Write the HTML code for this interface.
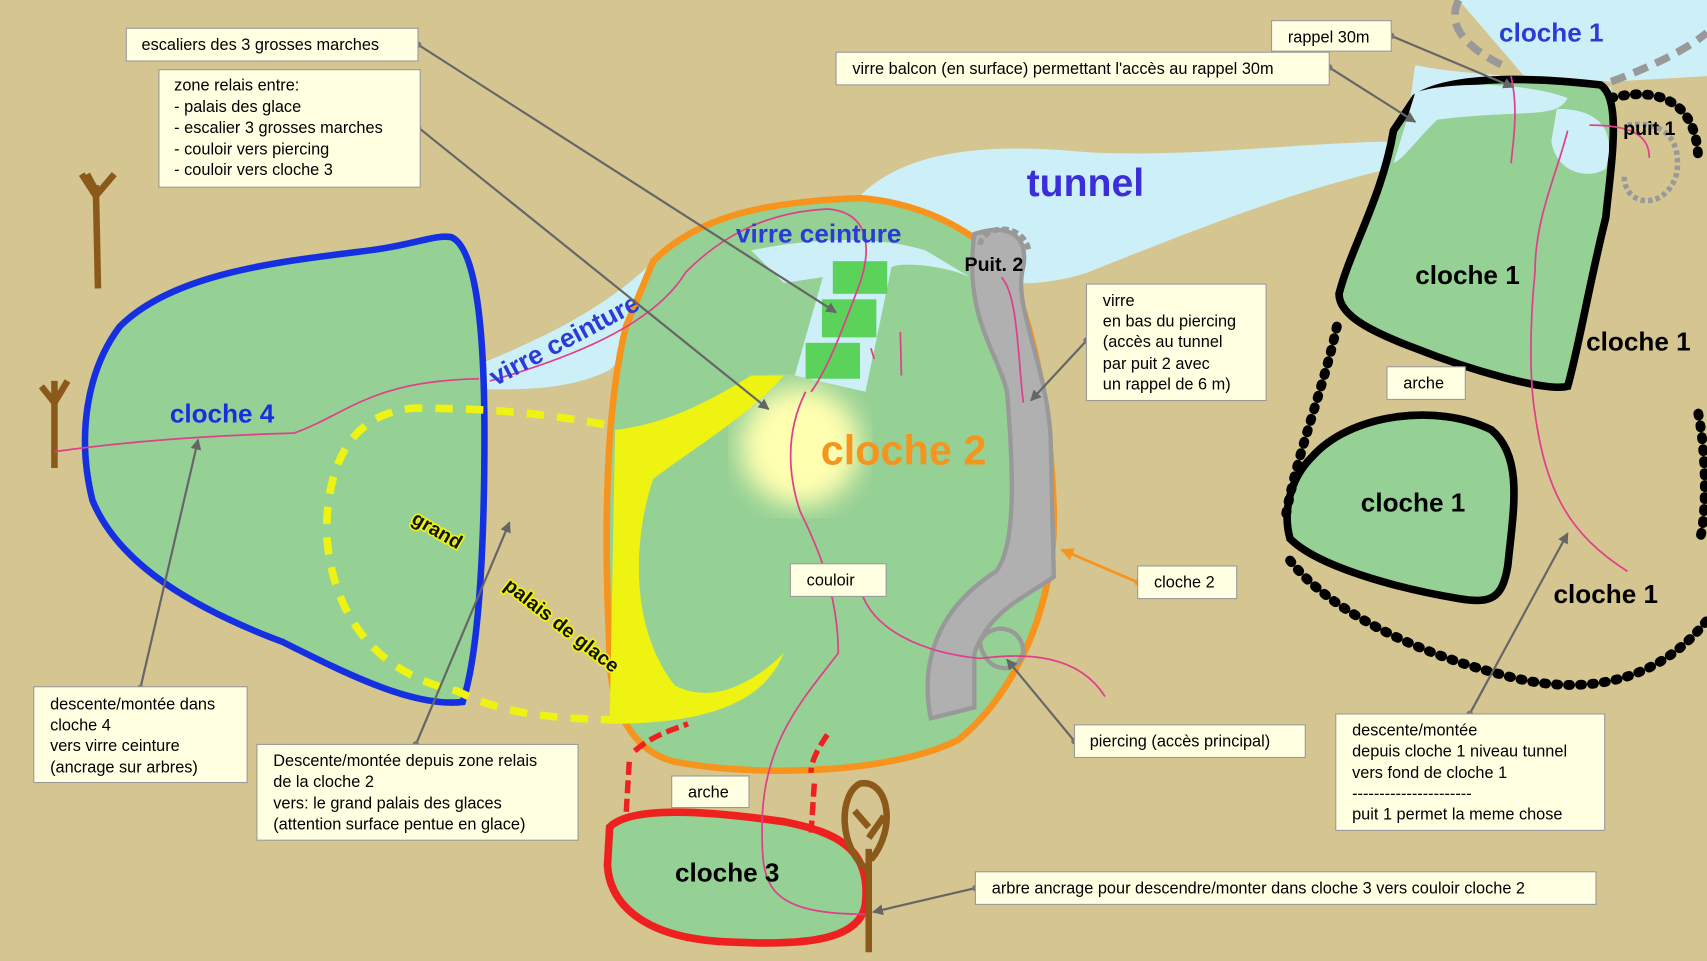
<!DOCTYPE html>
<html><head><meta charset="utf-8"><style>
html,body{margin:0;padding:0;background:#d5c590;}
svg{display:block}
.lb{font-family:"Liberation Sans",sans-serif;font-size:15px;fill:#000}
.bx{fill:#ffffe2;stroke:#9a9a9a;stroke-width:1}
.big{font-family:"Liberation Sans",sans-serif;font-weight:bold}
</style></head><body>
<svg width="1707" height="961" viewBox="0 0 1568 883" preserveAspectRatio="none" xmlns="http://www.w3.org/2000/svg">
<defs><marker id="ar" markerWidth="10" markerHeight="10" refX="9" refY="5" orient="auto" markerUnits="userSpaceOnUse"><path d="M0,0 L10,5 L0,10 z" fill="#666"/></marker>
<marker id="ao" markerWidth="12" markerHeight="12" refX="11" refY="6" orient="auto" markerUnits="userSpaceOnUse"><path d="M0,0 L12,6 L0,12 z" fill="#f7941d"/></marker>
<filter id="bl"><feGaussianBlur stdDeviation="12"/></filter></defs>
<rect width="1568" height="883" fill="#d5c590"/>
<!-- tunnel -->
<path d="M790,180 C830,140 900,130 1000,140 C1100,145 1200,130 1290,130 L1300,60 C1350,70 1420,70 1480,80 L1480,150 L1300,150 C1200,170 1100,210 1000,250 C940,270 880,260 830,230 Z" fill="#cdf0f8"/>
<path d="M1340,0 L1568,0 L1568,70 L1480,75 L1400,70 Z" fill="#cdf0f8"/>
<!-- virre ceinture band -->
<path d="M390,355 C450,330 540,300 600,240 C640,200 700,180 790,180 L830,230 L720,230 C650,250 600,300 560,340 C520,360 470,360 390,355Z" fill="#cdf0f8"/>
<!-- cloche 2 -->
<path d="M600,240 C640,200 700,185 790,182 C830,185 880,200 920,240 C950,290 965,380 968,470 C970,560 930,640 880,680 C820,710 700,715 620,700 C580,690 560,650 560,600 C555,500 555,380 575,300 Z" fill="#95d095" stroke="#f7941d" stroke-width="6"/>
<path d="M690,230 C740,220 800,215 850,230 L900,260 C880,245 830,240 820,245 L720,260 Z" fill="#cdf0f8"/>
<ellipse cx="735" cy="410" rx="55" ry="55" fill="#ffffb0" filter="url(#bl)"/>
<path d="M565,395 C610,390 650,370 690,345 L720,345 C690,380 640,410 600,440 C580,500 580,580 620,630 C660,650 700,620 720,600 C700,650 640,665 560,665 Z" fill="#eef312"/>
<path d="M895,215 C925,205 945,215 940,245 C930,280 960,330 965,400 L968,530 C940,550 910,560 895,600 L895,650 L855,660 C845,610 860,560 915,525 C935,500 930,420 925,360 C915,320 885,290 895,215Z" fill="#b0b0b0" stroke="#999" stroke-width="4"/>
<path d="M900,590 C910,570 940,575 940,600 C935,620 905,620 900,590Z" fill="none" stroke="#999" stroke-width="4"/>
<path d="M900,225 C905,205 940,205 945,230" fill="none" stroke="#999" stroke-width="5" stroke-dasharray="6,3"/>
<!-- green stairs -->
<path d="M760,240 L820,240 L795,360 L730,345 Z" fill="#cdf0f8"/>
<rect x="765" y="240" width="50" height="30" fill="#5bd35b"/><rect x="755" y="275" width="50" height="35" fill="#5bd35b"/><rect x="740" y="315" width="50" height="33" fill="#5bd35b"/>
<!-- cloche 4 -->
<path d="M415,218 C440,230 445,320 445,400 C445,500 440,600 425,645 C380,650 320,620 260,590 C180,560 110,520 85,460 C70,400 80,340 110,300 C160,250 260,240 340,230 C380,225 400,215 415,218Z" fill="#95d095" stroke="#1530e0" stroke-width="6"/>
<path d="M555,390 C500,380 450,375 380,375 C320,380 300,430 300,490 C305,570 350,620 420,635 C470,660 520,660 580,662" fill="none" stroke="#eef312" stroke-width="7" stroke-dasharray="16,12"/>
<!-- cloche 3 -->
<path d="M560,760 C580,740 650,745 720,755 C770,765 800,780 795,830 C790,870 720,868 660,865 C590,860 560,830 558,795Z" fill="#95d095" stroke="#ee2020" stroke-width="7"/>
<path d="M583,690 C600,675 620,670 632,665 M578,700 L575,750 M760,675 C750,690 745,700 745,710 M748,720 L745,765" fill="none" stroke="#ee2020" stroke-width="5" stroke-dasharray="12,5"/>
<!-- cloche 1 -->
<path d="M1300,90 C1330,70 1400,70 1470,78 C1490,90 1480,150 1475,200 C1460,260 1450,320 1440,355 C1420,360 1350,340 1300,320 C1260,305 1230,290 1230,270 C1240,230 1270,180 1280,120Z" fill="#95d095" stroke="#000" stroke-width="7"/>
<path d="M1300,85 C1330,75 1400,75 1440,90 C1430,110 1400,100 1320,110 C1300,130 1290,145 1280,150Z" fill="#cdf0f8"/>
<path d="M1430,100 C1470,100 1485,120 1475,155 C1460,165 1430,160 1425,130Z" fill="#cdf0f8"/>
<path d="M1205,420 C1240,380 1320,370 1370,395 C1400,420 1390,470 1385,520 C1380,550 1370,555 1340,550 C1280,540 1210,520 1185,495 C1178,470 1185,440 1205,420Z" fill="#95d095" stroke="#000" stroke-width="7"/>
<path d="M1228,300 C1215,360 1190,420 1180,480 M1185,515 C1220,560 1300,600 1380,620 C1450,640 1520,630 1568,570" fill="none" stroke="#000" stroke-width="9" stroke-dasharray="2,9" stroke-linecap="round"/>
<path d="M1480,90 C1520,80 1560,90 1560,150 M1560,380 C1568,420 1568,480 1560,500" fill="none" stroke="#000" stroke-width="9" stroke-dasharray="2,9" stroke-linecap="round"/>
<path d="M1340,0 C1330,20 1340,40 1380,60 M1480,75 C1520,60 1550,45 1568,30" fill="none" stroke="#999" stroke-width="7" stroke-dasharray="14,8"/>
<path d="M1495,115 C1530,110 1545,130 1540,160 C1530,195 1490,190 1492,160" fill="none" stroke="#999" stroke-width="5" stroke-dasharray="4,3"/>
<!-- trees -->
<path d="M90,265 L88,170 M75,160 L88,180 L105,160 M88,175 L80,160" stroke="#8b5a1a" stroke-width="6" fill="none"/>
<path d="M50,430 L50,350 M38,355 L50,370 L62,350" stroke="#8b5a1a" stroke-width="6" fill="none"/>
<path d="M798,875 L798,780 M798,800 C770,780 770,730 790,720 C815,715 825,760 800,790 M798,760 L785,745 M798,770 L812,750" stroke="#8b5a1a" stroke-width="6" fill="none"/>
<!-- pink paths -->
<g fill="none" stroke="#e0408a" stroke-width="1.6">
<path d="M50,415 C120,405 200,400 270,398 C320,380 340,350 440,348"/>
<path d="M450,350 C520,330 600,300 630,250 C660,220 700,195 760,192 C800,195 800,230 790,260 C775,300 760,340 745,360"/>
<path d="M740,360 C720,400 725,440 735,470 C760,520 770,560 770,600 C740,640 700,680 700,760 C700,810 700,840 795,840"/>
<path d="M790,540 C800,580 850,600 900,605 C940,600 990,600 1015,640"/>
<path d="M920,255 C935,270 935,330 940,370"/>
<path d="M1388,70 C1395,100 1390,130 1388,150 M1440,120 C1430,160 1410,200 1410,250 C1405,300 1405,350 1410,380 C1420,450 1440,490 1495,525 M1460,115 C1500,115 1515,125 1515,145"/>
<path d="M827,305 L828,345 M800,320 L803,330"/>
</g>
<!-- big labels -->
<text x="997" y="180" class="big" font-size="36" fill="#3b2ed8" text-anchor="middle">tunnel</text>
<text x="752" y="223" class="big" font-size="24" fill="#2a3bd8" text-anchor="middle">virre ceinture</text>
<text x="0" y="0" class="big" font-size="24" fill="#2a3bd8" transform="translate(455,355) rotate(-28)">virre ceinture</text>
<text x="204" y="388" class="big" font-size="24" fill="#1530e0" text-anchor="middle">cloche 4</text>
<text x="830" y="427" class="big" font-size="38" fill="#f7941d" text-anchor="middle">cloche 2</text>
<text x="668" y="810" class="big" font-size="24" fill="#000" text-anchor="middle">cloche 3</text>
<text x="1425" y="38" class="big" font-size="24" fill="#2a3bd8" text-anchor="middle">cloche 1</text>
<text x="1348" y="261" class="big" font-size="24" text-anchor="middle">cloche 1</text>
<text x="1505" y="322" class="big" font-size="24" text-anchor="middle">cloche 1</text>
<text x="1298" y="470" class="big" font-size="24" text-anchor="middle">cloche 1</text>
<text x="1475" y="554" class="big" font-size="24" text-anchor="middle">cloche 1</text>
<text x="1515" y="124" class="big" font-size="18" text-anchor="middle">puit 1</text>
<text x="886" y="249" class="big" font-size="18">Puit.  2</text>
<g class="big" font-size="18" fill="#111" stroke="#eef312" stroke-width="3" paint-order="stroke">
<text transform="translate(377,480) rotate(30)">grand</text>
<text transform="translate(462,540) rotate(38)">palais de glace</text></g>
<!-- connectors -->
<g stroke="#666" stroke-width="2" fill="none" marker-end="url(#ar)">
<line x1="384" y1="41" x2="768" y2="287"/>
<line x1="384" y1="117" x2="706" y2="376"/>
<line x1="1278" y1="33" x2="1390" y2="80"/>
<line x1="1221" y1="62" x2="1300" y2="112"/>
<line x1="998" y1="313" x2="947" y2="368"/>
<line x1="129" y1="632" x2="182" y2="404"/>
<line x1="382" y1="684" x2="468" y2="480"/>
<line x1="987" y1="681" x2="925" y2="606"/>
<line x1="1350" y1="656" x2="1440" y2="490"/>
<line x1="896" y1="816" x2="802" y2="838"/>
</g>
<line x1="1045" y1="535" x2="975" y2="505" stroke="#f7941d" stroke-width="2.5" marker-end="url(#ao)"/>
<g fill="#777"><circle cx="384" cy="41" r="3"/><circle cx="384" cy="117" r="3"/><circle cx="1278" cy="33" r="3"/><circle cx="1221" cy="62" r="3"/><circle cx="998" cy="313" r="3"/><circle cx="129" cy="632" r="3"/><circle cx="382" cy="684" r="3"/><circle cx="987" cy="681" r="3"/><circle cx="1350" cy="656" r="3"/><circle cx="896" cy="816" r="3"/><circle cx="1045" cy="535" r="3" fill="#f7941d"/></g>
<!-- boxes -->
<g>
<rect class="bx" x="116" y="26" width="268" height="30"/><text class="lb" x="130" y="46">escaliers des 3 grosses marches</text>
<rect class="bx" x="146" y="64" width="240" height="108"/><text class="lb" x="160" y="83">zone relais entre:</text><text class="lb" x="160" y="103">- palais des glace</text><text class="lb" x="160" y="122">- escalier 3 grosses marches</text><text class="lb" x="160" y="142">- couloir vers piercing</text><text class="lb" x="160" y="161">- couloir vers cloche 3</text>
<rect class="bx" x="1168" y="19" width="110" height="28"/><text class="lb" x="1183" y="39">rappel 30m</text>
<rect class="bx" x="768" y="48" width="453" height="30"/><text class="lb" x="783" y="68">virre balcon (en surface) permettant l'accès au rappel 30m</text>
<rect class="bx" x="998" y="261" width="165" height="107"/><text class="lb" x="1013" y="281">virre</text><text class="lb" x="1013" y="300">en bas du piercing</text><text class="lb" x="1013" y="319">(accès au tunnel</text><text class="lb" x="1013" y="339">par puit 2 avec</text><text class="lb" x="1013" y="358">un rappel de 6 m)</text>
<rect class="bx" x="1274" y="337" width="72" height="30"/><text class="lb" x="1289" y="357">arche</text>
<rect class="bx" x="726" y="518" width="88" height="30"/><text class="lb" x="741" y="538">couloir</text>
<rect class="bx" x="1045" y="520" width="91" height="30"/><text class="lb" x="1060" y="540">cloche 2</text>
<rect class="bx" x="31" y="631" width="196" height="88"/><text class="lb" x="46" y="652">descente/montée dans</text><text class="lb" x="46" y="671">cloche 4</text><text class="lb" x="46" y="690">vers virre ceinture</text><text class="lb" x="46" y="710">(ancrage sur arbres)</text>
<rect class="bx" x="236" y="684" width="295" height="88"/><text class="lb" x="251" y="704">Descente/montée depuis zone relais</text><text class="lb" x="251" y="723">de la cloche 2</text><text class="lb" x="251" y="743">vers: le grand palais des glaces</text><text class="lb" x="251" y="762">(attention surface pentue en glace)</text>
<rect class="bx" x="617" y="713" width="71" height="29"/><text class="lb" x="632" y="733">arche</text>
<rect class="bx" x="987" y="666" width="212" height="30"/><text class="lb" x="1001" y="686">piercing (accès principal)</text>
<rect class="bx" x="1227" y="656" width="247" height="107"/><text class="lb" x="1242" y="676">descente/montée</text><text class="lb" x="1242" y="695">depuis cloche 1 niveau tunnel</text><text class="lb" x="1242" y="715">vers fond de cloche 1</text><text class="lb" x="1242" y="734">----------------------</text><text class="lb" x="1242" y="753">puit 1 permet la meme chose</text>
<rect class="bx" x="896" y="801" width="570" height="30"/><text class="lb" x="911" y="821">arbre ancrage pour descendre/monter dans cloche 3 vers couloir cloche 2</text>
</g>
</svg>
</body></html>
